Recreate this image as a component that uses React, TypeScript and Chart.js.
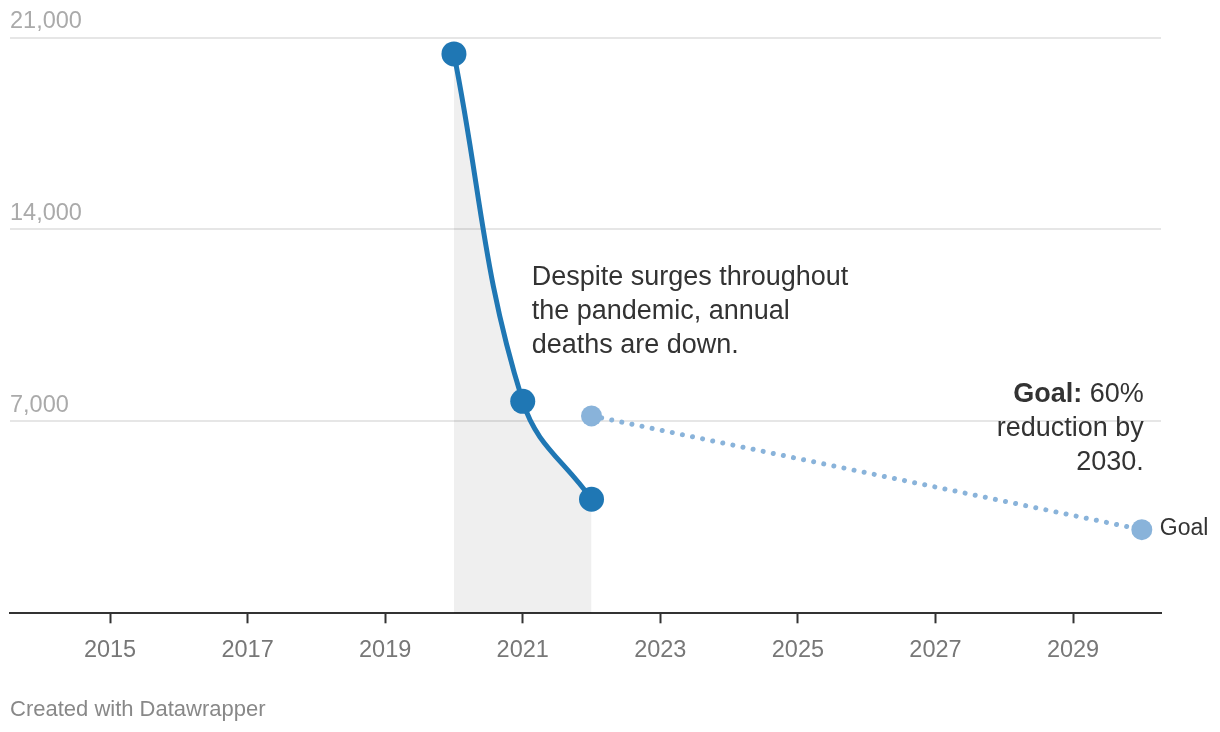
import React, { useEffect, useRef } from "react";
import { Chart, registerables } from "chart.js";

Chart.register(...registerables);

const FONT = '"Liberation Sans", Arial, Helvetica, sans-serif';
const BLUE = "#1f77b4";
const LIGHT_BLUE = "#89b3da";

// Data
const years = [2020, 2021, 2022];
const deaths = [20400, 7730, 4160];
const goalYears = [2022, 2030];
const goalValues = [7200, 3050];
const xTickYears = [2015, 2017, 2019, 2021, 2023, 2025, 2027, 2029];
const yTickValues = [0, 7000, 14000, 21000];
const xRange = [2013.546, 2030.279];
const yRange = [0, 21000];

// Text
const noteLines = ["Despite surges throughout", "the pandemic, annual", "deaths are down."];
const noteAnchor = [2021.13, 11960];
const goalNoteBold = "Goal:";
const goalNoteLines = [" 60%", "reduction by", "2030."];
const goalNoteAnchor = [2030.03, 7710];
const goalLabel = "Goal";
const footerText = "Created with Datawrapper";

const notesPlugin = {
  id: "notes",
  afterDatasetsDraw(chart: any) {
    const { ctx } = chart;
    const x = chart.scales.x;
    const y = chart.scales.y;
    ctx.save();
    ctx.fillStyle = "#333333";
    ctx.textBaseline = "alphabetic";
    ctx.font = `27px ${FONT}`;
    ctx.textAlign = "left";
    const nx = x.getPixelForValue(noteAnchor[0]);
    const ny = y.getPixelForValue(noteAnchor[1]);
    noteLines.forEach((t, i) => ctx.fillText(t, nx, ny + i * 34));

    const gx = x.getPixelForValue(goalNoteAnchor[0]);
    const gy = y.getPixelForValue(goalNoteAnchor[1]);
    ctx.textAlign = "right";
    ctx.font = `27px ${FONT}`;
    const restW = ctx.measureText(goalNoteLines[0]).width;
    ctx.fillText(goalNoteLines[0], gx, gy);
    ctx.font = `bold 27px ${FONT}`;
    ctx.fillText(goalNoteBold, gx - restW, gy);
    ctx.font = `27px ${FONT}`;
    for (let i = 1; i < goalNoteLines.length; i++) {
      ctx.fillText(goalNoteLines[i], gx, gy + i * 34);
    }

    const meta = chart.getDatasetMeta(1);
    const last = meta.data[meta.data.length - 1];
    ctx.textAlign = "left";
    ctx.textBaseline = "middle";
    ctx.font = `23px ${FONT}`;
    ctx.fillText(goalLabel, last.x + 18, last.y - 1);
    ctx.restore();
  },
};

export default function App() {
  const canvasRef = useRef<HTMLCanvasElement | null>(null);

  useEffect(() => {
    if (!canvasRef.current) return;
    const chart = new Chart(canvasRef.current, {
      type: "line",
      data: {
        datasets: [
          {
            data: years.map((yr, i) => ({ x: yr, y: deaths[i] })),
            borderColor: BLUE,
            borderWidth: 5,
            backgroundColor: "rgba(0,0,0,0.063)",
            fill: "origin",
            cubicInterpolationMode: "default",
            tension: 0.4,
            pointRadius: 12.5,
            pointHoverRadius: 12.5,
            pointBackgroundColor: BLUE,
            pointBorderWidth: 0,
            clip: false,
          } as any,
          {
            data: goalYears.map((yr, i) => ({ x: yr, y: goalValues[i] })),
            borderColor: LIGHT_BLUE,
            borderWidth: 5,
            borderDash: [0.01, 10.3],
            borderCapStyle: "round",
            fill: false,
            tension: 0,
            pointRadius: 10.5,
            pointHoverRadius: 10.5,
            pointBackgroundColor: LIGHT_BLUE,
            pointBorderWidth: 0,
            clip: false,
          } as any,
        ],
      },
      options: {
        animation: false,
        responsive: false,
        events: [],
        layout: { autoPadding: false, padding: { left: 10, right: 59, top: 37.5, bottom: 54.5 } },
        plugins: {
          legend: { display: false },
          tooltip: { enabled: false },
        },
        scales: {
          x: {
            type: "linear",
            min: xRange[0],
            max: xRange[1],
            afterBuildTicks: (s: any) => {
              s.ticks = xTickYears.map((v) => ({ value: v }));
            },
            border: { display: true, color: "#333333", width: 2 },
            grid: {
              drawOnChartArea: false,
              drawTicks: true,
              tickLength: 10,
              tickColor: "#333333",
              tickWidth: 2,
            },
            ticks: {
              color: "#777777",
              font: { family: FONT, size: 23.5 },
              padding: 13,
              maxRotation: 0,
              autoSkip: false,
              callback: (v: any) => String(v),
            },
          },
          y: {
            min: yRange[0],
            max: yRange[1],
            afterBuildTicks: (s: any) => {
              s.ticks = yTickValues.map((v) => ({ value: v }));
            },
            border: { display: false },
            grid: {
              color: (c: any) => (c.tick && c.tick.value === 0 ? "rgba(0,0,0,0)" : "#e6e6e6"),
              lineWidth: 2,
              drawTicks: false,
            },
            ticks: {
              mirror: true,
              padding: 0,
              labelOffset: -15.5,
              color: "#aaaaaa",
              font: { family: FONT, size: 23.5 },
              callback: (v: any) => (v === 0 ? "" : Number(v).toLocaleString("en-US")),
            },
          },
        },
      },
      plugins: [notesPlugin],
    });
    return () => chart.destroy();
  }, []);

  return (
    <div style={{ position: "absolute", left: 0, top: 0, width: 1220, height: 732, background: "#fff" }}>
      <canvas ref={canvasRef} width={1220} height={732} style={{ display: "block" }} />
      <div
        style={{
          position: "absolute",
          left: 10,
          top: 698,
          fontFamily: FONT,
          fontSize: 22,
          lineHeight: "22px",
          color: "#888888",
          whiteSpace: "nowrap",
        }}
      >
        {footerText}
      </div>
    </div>
  );
}
